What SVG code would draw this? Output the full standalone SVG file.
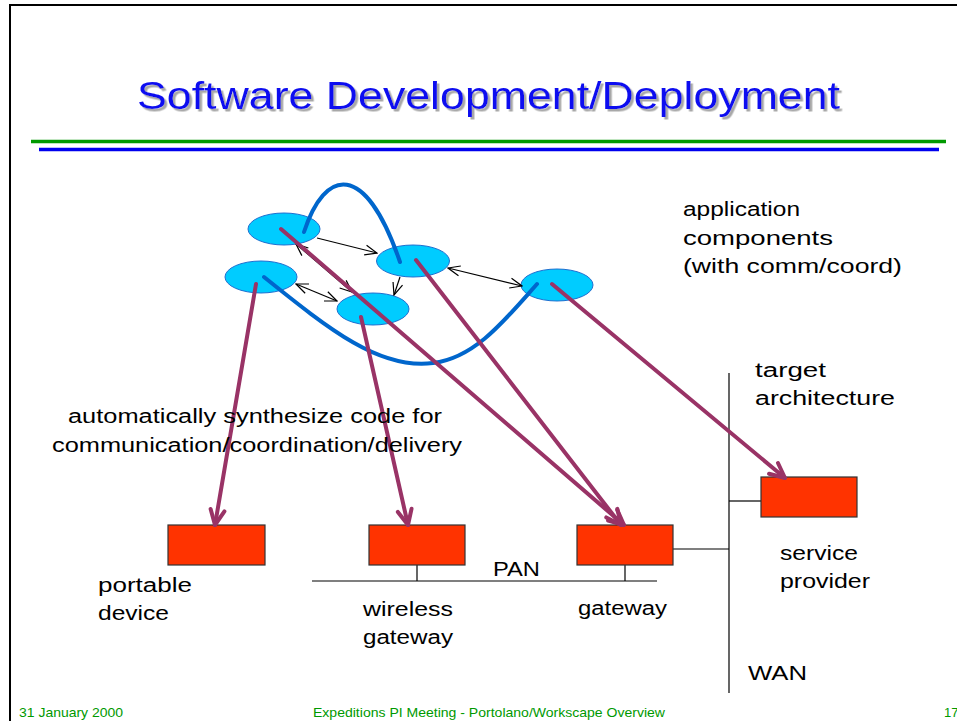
<svg xmlns="http://www.w3.org/2000/svg" width="957" height="721" viewBox="0 0 957 721">
<style>
text{font-family:"Liberation Sans","DejaVu Sans",sans-serif;fill:#000}
.lbl{font-size:20px}
.foot{font-size:13px;fill:#009900}
.comp{fill:#00CCFF;stroke:#1F6FD0;stroke-width:1}
.box{fill:#FF3300;stroke:#333;stroke-width:1.2}
.net{stroke:#000;stroke-width:1.2;fill:none}
.flow{stroke:#993366;stroke-width:4;fill:none;stroke-linecap:round;marker-end:url(#ph)}
.msg{stroke:#000;stroke-width:1.2;fill:none;marker-end:url(#bh)}
.msg2{stroke:#000;stroke-width:1.2;fill:none;marker-end:url(#bh);marker-start:url(#bh)}
.coord{stroke:#0066CC;stroke-width:4;fill:none;stroke-linecap:round}
</style>
<defs>
<filter id="shadow" x="-5%" y="-20%" width="110%" height="150%">
<feDropShadow dx="2.5" dy="2.5" stdDeviation="0.6" flood-color="#A8A8A8" flood-opacity="1"/>
</filter>
<marker id="ph" markerUnits="userSpaceOnUse" viewBox="0 0 20 20" markerWidth="20" markerHeight="20" refX="18" refY="10" orient="auto">
<path d="M3,3 L18,10 L3,17" fill="none" stroke="#993366" stroke-width="4" stroke-linecap="round" stroke-linejoin="round"/>
</marker>
<marker id="bh" markerUnits="userSpaceOnUse" viewBox="0 0 14 12" markerWidth="14" markerHeight="12" refX="13" refY="6" orient="auto-start-reverse">
<path d="M1,1 L13,6 L1,11" fill="none" stroke="#000" stroke-width="1.2"/>
</marker>
</defs>
<rect width="957" height="721" fill="#fff"/>
<g id="frame">
<line x1="9" y1="5" x2="957" y2="5" stroke="#000" stroke-width="2"/>
<line x1="10" y1="5" x2="10" y2="721" stroke="#000" stroke-width="2"/>
</g>
<g id="title">
<text x="137" y="109" font-size="38" textLength="703" lengthAdjust="spacingAndGlyphs" filter="url(#shadow)" style="fill:#1010F0">Software Development/Deployment</text>
<line x1="31" y1="141.5" x2="946" y2="141.5" stroke="#009900" stroke-width="3.5"/>
<line x1="39" y1="149.5" x2="939" y2="149.5" stroke="#0000EE" stroke-width="3.5"/>
</g>
<g id="network">
<line class="net" x1="312" y1="581" x2="657" y2="581"/>
<line class="net" x1="417" y1="565" x2="417" y2="581"/>
<line class="net" x1="625" y1="565" x2="625" y2="581"/>
<line class="net" x1="673" y1="549" x2="729" y2="549"/>
<line class="net" x1="729" y1="373" x2="729" y2="693" stroke-width="1.5"/>
<line class="net" x1="729" y1="501" x2="761" y2="501"/>
</g>
<g id="nodes">
<g id="c1"><ellipse class="comp" cx="284" cy="229" rx="36" ry="16"/></g>
<g id="c2"><ellipse class="comp" cx="413" cy="261" rx="36.5" ry="16"/></g>
<g id="c3"><ellipse class="comp" cx="261" cy="277" rx="36" ry="16"/></g>
<g id="c4"><ellipse class="comp" cx="373" cy="309" rx="36" ry="16"/></g>
<g id="c5"><ellipse class="comp" cx="557" cy="285" rx="36" ry="16"/></g>
<g id="portable-device"><rect class="box" x="168" y="525" width="97" height="40"/>
<text class="lbl" x="98" y="592" textLength="94" lengthAdjust="spacingAndGlyphs">portable</text>
<text class="lbl" x="98" y="620" textLength="71" lengthAdjust="spacingAndGlyphs">device</text></g>
<g id="wireless-gateway"><rect class="box" x="369" y="525" width="96" height="40"/>
<text class="lbl" x="363" y="616" textLength="90" lengthAdjust="spacingAndGlyphs">wireless</text>
<text class="lbl" x="363" y="644" textLength="90" lengthAdjust="spacingAndGlyphs">gateway</text></g>
<g id="gateway"><rect class="box" x="577" y="525" width="96" height="40"/>
<text class="lbl" x="578" y="615" textLength="89" lengthAdjust="spacingAndGlyphs">gateway</text></g>
<g id="service-provider"><rect class="box" x="761" y="477" width="96" height="40"/>
<text class="lbl" x="780" y="560" textLength="78" lengthAdjust="spacingAndGlyphs">service</text>
<text class="lbl" x="780" y="588" textLength="90" lengthAdjust="spacingAndGlyphs">provider</text></g>
</g>
<g id="connectors">
<path class="coord" d="M304,232 C325,168 365,160 400,262"/>
<path class="coord" d="M264,277 C330,330 380,370 433,363 C475,358 505,320 537,284"/>
<line class="msg" x1="317" y1="238" x2="377" y2="253"/>
<line class="msg2" x1="448" y1="268" x2="522" y2="286"/>
<line class="msg" x1="400" y1="277" x2="394" y2="295"/>
<line class="msg2" x1="296" y1="284" x2="337" y2="301"/>
<line class="msg2" x1="296" y1="244" x2="352" y2="292"/>
<line class="flow" x1="281" y1="229" x2="624" y2="525"/>
<line class="flow" x1="416" y1="260" x2="621" y2="525"/>
<line class="flow" x1="256" y1="284" x2="215" y2="525"/>
<line class="flow" x1="361" y1="317" x2="408" y2="525"/>
<line class="flow" x1="552" y1="284" x2="785" y2="478"/>
</g>
<g id="labels">
<text class="lbl" x="683" y="216" textLength="117" lengthAdjust="spacingAndGlyphs">application</text>
<text class="lbl" x="683" y="245" textLength="150" lengthAdjust="spacingAndGlyphs">components</text>
<text class="lbl" x="683" y="273" textLength="219" lengthAdjust="spacingAndGlyphs">(with comm/coord)</text>
<text class="lbl" x="755" y="377" textLength="71" lengthAdjust="spacingAndGlyphs">target</text>
<text class="lbl" x="755" y="405" textLength="140" lengthAdjust="spacingAndGlyphs">architecture</text>
<text class="lbl" x="68" y="423" textLength="374" lengthAdjust="spacingAndGlyphs">automatically synthesize code for</text>
<text class="lbl" x="52" y="452" textLength="410" lengthAdjust="spacingAndGlyphs">communication/coordination/delivery</text>
<text class="lbl" x="493" y="576" textLength="47" lengthAdjust="spacingAndGlyphs">PAN</text>
<text class="lbl" x="748" y="680" textLength="59" lengthAdjust="spacingAndGlyphs">WAN</text>
</g>
<g id="footer">
<text class="foot" x="19" y="717" textLength="104" lengthAdjust="spacingAndGlyphs">31 January 2000</text>
<text class="foot" x="313" y="717" textLength="352" lengthAdjust="spacingAndGlyphs">Expeditions PI Meeting - Portolano/Workscape Overview</text>
<text class="foot" x="944" y="717">17</text>
</g>
</svg>
